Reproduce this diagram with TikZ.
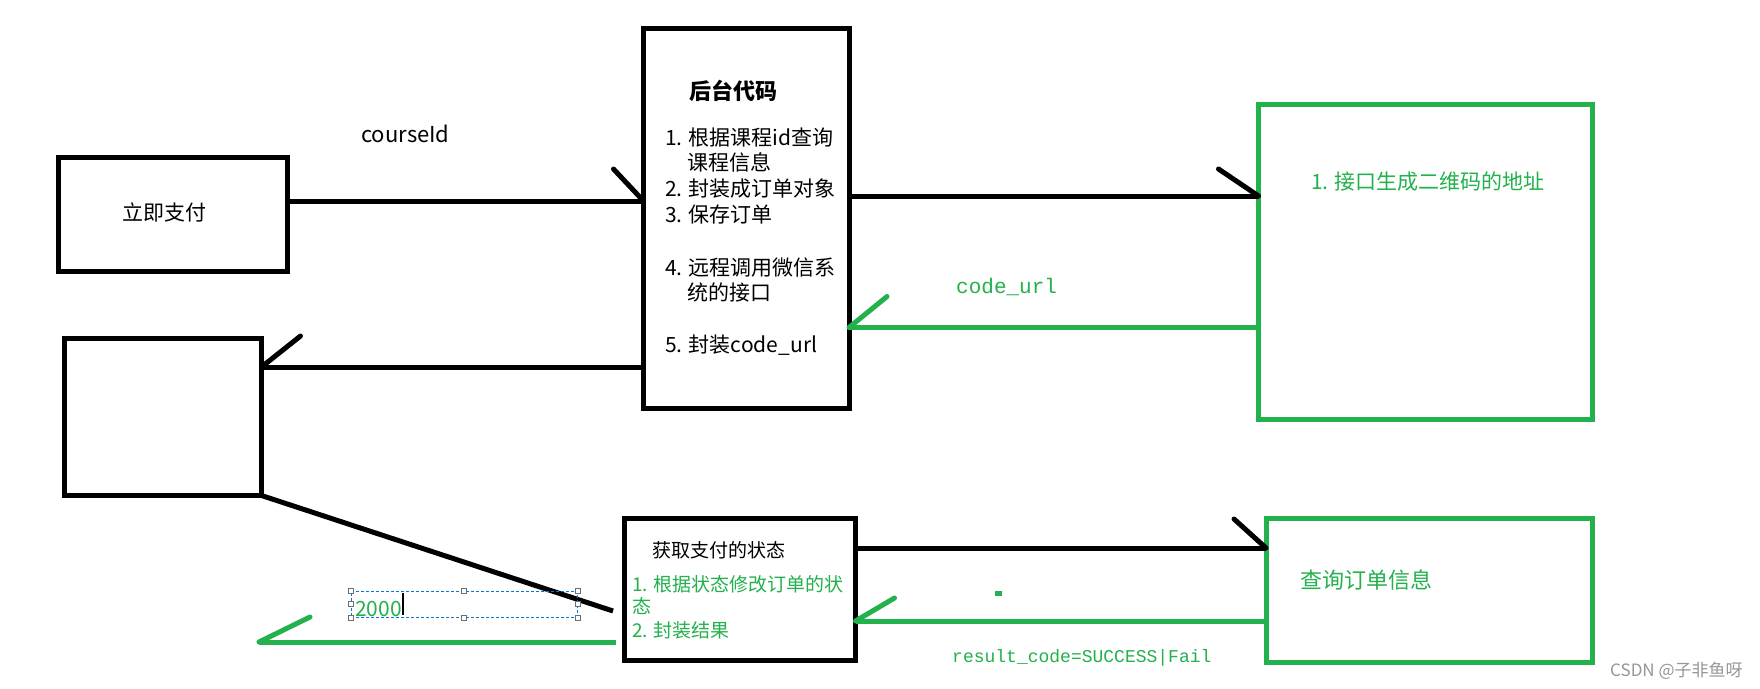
\documentclass[tikz,border=0pt]{standalone}
\usepackage{fontspec}
\setmainfont{Noto Sans CJK SC}
\newfontfamily\monof{Liberation Mono}
\usetikzlibrary{calc}
\definecolor{pgreen}{RGB}{34,177,76}
\definecolor{selblue}{RGB}{0,120,215}
\definecolor{wmgray}{RGB}{150,150,150}
\definecolor{hgray}{RGB}{110,110,110}
\begin{document}
\begin{tikzpicture}[x=1pt,y=-1pt,
  box/.style={draw=black,line width=5pt,inner sep=0pt,outer sep=0pt},
  gbox/.style={draw=pgreen,line width=5pt,inner sep=0pt,outer sep=0pt},
  ln/.style={draw=black,line width=5pt},
  barb/.style={draw=black,line width=5pt,line cap=round},
  gln/.style={draw=pgreen,line width=5pt},
  gbarb/.style={draw=pgreen,line width=5pt,line cap=round},
  txt/.style={anchor=base west,inner sep=0pt,font=\fontsize{#1}{#1}\selectfont},
  txt/.default=21,
  handle/.style={draw=hgray,fill=white,line width=0.8pt,minimum size=5pt,inner sep=0pt}]
\useasboundingbox (0,0) rectangle (1760,688);
\fill[white] (0,0) rectangle (1760,688);

% boxes
\node[box,minimum width=229pt,minimum height=114pt] (pay) at (173,214.5) {};
\node[box,minimum width=205.5pt,minimum height=380pt] (main) at (746.25,218.5) {};
\node[gbox,minimum width=334pt,minimum height=315pt] (qr) at (1425.5,262) {};
\node[box,minimum width=197pt,minimum height=157pt] (res) at (163,417) {};
\node[box,minimum width=231pt,minimum height=142pt] (status) at (740,589.5) {};
\node[gbox,minimum width=326.5pt,minimum height=144.5pt] (query) at (1429.25,590.25) {};

% texts
\node[txt=21] (tpay) at (122,220) {立即支付};
\node[txt=22] (tcourse) at (361,142) {courseId};
\node[txt=22,font=\fontsize{22}{22}\selectfont\bfseries] (tmain) at (689,99.5) {后台代码};
\node[txt] (m1) at (665,145) {1. 根据课程id查询};
\node[txt] (m2) at (687,170) {课程信息};
\node[txt] (m3) at (665,196) {2. 封装成订单对象};
\node[txt] (m4) at (665,222) {3. 保存订单};
\node[txt] (m5) at (665,275) {4. 远程调用微信系};
\node[txt] (m6) at (687,300) {统的接口};
\node[txt] (m7) at (665,352) {5. 封装code\_url};
\node[txt,text=pgreen] (tqr) at (1311,189) {1. 接口生成二维码的地址};
\node[txt,text=pgreen,font=\fontsize{21}{21}\selectfont\monof] (tcode) at (956,293) {code\_url};
\node[txt=19] (s0) at (652,557) {获取支付的状态};
\node[txt=19,text=pgreen] (s1) at (632,591) {1. 根据状态修改订单的状};
\node[txt=19,text=pgreen] (s2) at (632,613) {态};
\node[txt=19,text=pgreen] (s3) at (632,637) {2. 封装结果};
\node[txt=22,text=pgreen] (tquery) at (1300,588.5) {查询订单信息};
\node[txt,text=pgreen,font=\fontsize{18}{18}\selectfont\monof] (tresult) at (952,662) {result\_code=SUCCESS|Fail};
\node[txt=17,text=wmgray] (wm) at (1610,676) {CSDN @子非鱼呀};

% connectors
\coordinate (y1) at (0,201);
\draw[ln] (pay.east |- y1) -- (main.west |- y1);
\draw[barb] (main.west |- y1) -- ++(-30,-32);

\coordinate (y2) at (0,196);
\draw[ln] (main.east |- y2) -- (qr.west |- y2);
\draw[barb] (qr.west |- y2) -- ++(-40,-27);

\coordinate (y3) at (0,327.5);
\draw[gln] (qr.west |- y3) -- (main.east |- y3);
\draw[gbarb] (main.east |- y3) -- ++(38,-31);

\coordinate (y4) at (0,367);
\draw[ln] (main.west |- y4) -- (res.east |- y4);
\draw[barb] (res.east |- y4) -- ++(39,-31);

\coordinate (dEnd) at (613,611);
\draw[ln] (res.south east) -- (dEnd);

\coordinate (y6) at (0,548);
\draw[ln] (status.east |- y6) -- (query.west |- y6);
\draw[barb] (query.west |- y6) -- ++(-32,-29);

\coordinate (y7) at (0,621);
\draw[gln] (query.west |- y7) -- (status.east |- y7);
\draw[gbarb] (status.east |- y7) -- ++(39,-23);

\coordinate (y8) at (0,642);
\path (status.west |- y8) ++(-9,0) coordinate (g8s);
\coordinate (g8e) at (259,642);
\draw[gln] (g8s) -- (g8e);
\draw[gbarb] (g8e) -- ++(51,-25);

% small green dot
\fill[pgreen] (995,591) rectangle (1002,596);

% selection box with 2000
\node[draw=selblue,line width=1pt,dash pattern=on 3pt off 2pt,minimum width=226pt,minimum height=26pt,inner sep=0pt] (sel) at (464,604) {};
\foreach \a/\n in {north west/1,north/2,north east/3,west/4,east/5,south west/6,south/7,south east/8}
  \node[handle] (h\n) at (sel.\a) {};
\node[txt,text=pgreen] (t2000) at (355,616) {2000};
\draw[line width=1.2pt] (403,593) -- (403,615);
\end{tikzpicture}
\end{document}
